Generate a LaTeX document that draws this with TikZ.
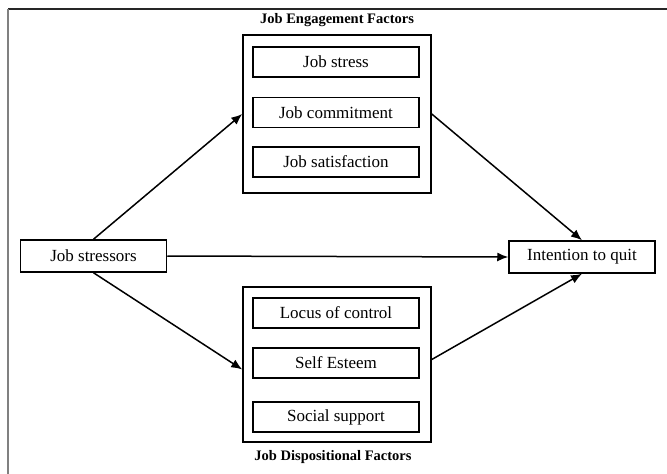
\documentclass[tikz,border=0pt]{standalone}
\usepackage{fontspec}
\setmainfont{Liberation Serif}
\usetikzlibrary{arrows.meta}

\begin{document}
\begin{tikzpicture}[x=1pt, y=-1pt, >={Latex[length=11pt,width=9pt]}, line width=1.5pt,
    item/.style={draw, minimum width=166pt, minimum height=30pt, inner sep=0pt, font=\fontsize{17}{20}\selectfont},
    endbox/.style={draw, minimum width=146pt, minimum height=32pt, inner sep=0pt, font=\fontsize{17}{20}\selectfont},
    group/.style={draw, minimum width=188pt, inner sep=0pt},
    heading/.style={font=\fontsize{14.5}{17}\selectfont\bfseries}]
\useasboundingbox (0,0) rectangle (667,474);
\draw[black!85, line width=1.2pt] (8,9)--(667,9);
\draw[black!50, line width=2.4pt] (8,9)--(8,474);

\node[heading] (engtitle) at (337,20) {Job Engagement Factors};
\node[group, minimum height=158pt] (eng) at (337,114) {};
\foreach \y/\name/\txt in {62/stress/Job stress,112.5/commit/Job commitment,162/satis/Job satisfaction}
{
    \node[item] (\name) at (336,\y) {\txt};
}

\node[group, minimum height=155pt] (disp) at (337,364.5) {};
\foreach \y/\name/\txt in {313/locus/Locus of control,363/esteem/Self Esteem,417/support/Social support}
{
    \node[item] (\name) at (336,\y) {\txt};
}
\node[heading] (disptitle) at (333,457) {Job Dispositional Factors};

\node[endbox] (stressors) at (93.5,256) {Job stressors};
\node[endbox] (quit) at (582,257) {Intention to quit};

\draw[->] (stressors.north)--(eng.west);
\draw[->] (stressors.south)--([yshift=-5pt]disp.west);
\draw[->] (stressors.east)--(quit.west);
\draw[->] (eng.east)--(quit.north);
\draw[->] ([yshift=5pt]disp.east)--(quit.south);
\end{tikzpicture}
\end{document}
